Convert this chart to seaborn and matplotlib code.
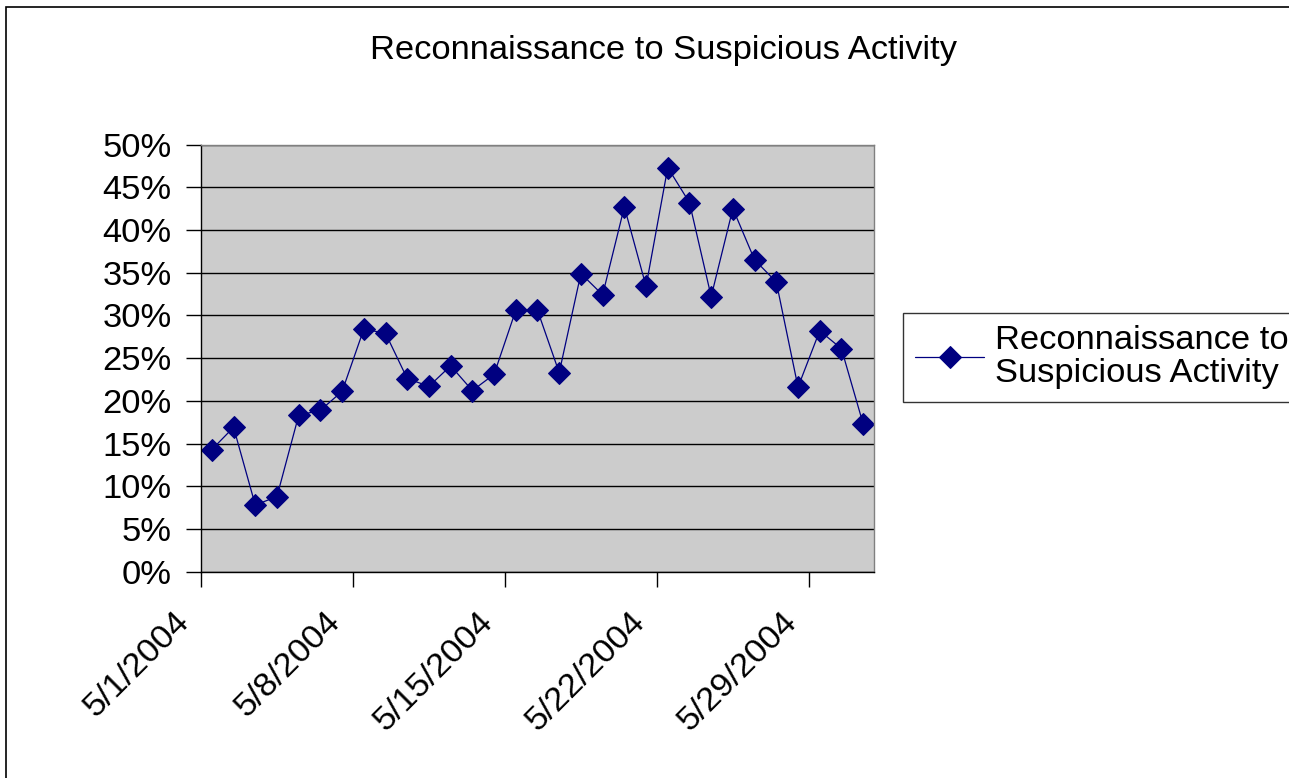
import pandas as pd
import seaborn as sns

import matplotlib
matplotlib.use("Agg")  # headless mode (no GUI)

import matplotlib.pyplot as plt
from matplotlib.patches import Rectangle
from matplotlib.transforms import ScaledTranslation

# data (share of reconnaissance events, in %)
dates = pd.date_range("2004-05-01", "2004-05-31", freq="D")
values = [14.3, 16.9, 7.8, 8.8, 18.3, 18.9, 21.1, 28.4, 27.9, 22.6,
          21.7, 24.1, 21.2, 23.1, 30.6, 30.6, 23.3, 34.9, 32.4, 42.7,
          33.4, 47.3, 43.2, 32.2, 42.5, 36.5, 33.9, 21.6, 28.2, 26.1,
          17.3]
series_name = "Reconnaissance to\nSuspicious Activity"
title = "Reconnaissance to Suspicious Activity"
y_ticks = [0, 5, 10, 15, 20, 25, 30, 35, 40, 45, 50]

df = pd.DataFrame({"date": dates, "pct": values})

sns.set_style("white")
plt.rcParams["font.family"] = ["Liberation Sans", "DejaVu Sans"]
plt.rcParams["text.color"] = "black"
plt.rcParams["xtick.color"] = "black"
plt.rcParams["ytick.color"] = "black"

FS = 24.8

fig = plt.figure(figsize=(12.89, 7.78), dpi=100)
ax = fig.add_axes([201 / 1289, 1 - 571.7 / 778, 673 / 1289, 427.2 / 778])

# outer chart border (right/bottom edges run off the picture)
fig.patches.append(Rectangle((6 / 1289, -0.1), 1.2, 1 - 7 / 778 + 0.1,
                             transform=fig.transFigure, fill=False,
                             edgecolor="black", linewidth=1.2))

ax.set_facecolor("#cccccc")
sns.lineplot(data=df, x="date", y="pct", ax=ax, color="#000080",
             linewidth=0.9, marker="D", markersize=11.5,
             markeredgecolor="#000080", label=series_name)

half = pd.Timedelta(hours=12)
ax.set_xlim(dates[0] - half, dates[-1] + half)
ax.set_ylim(0, 50)

ax.set_yticks(y_ticks)
ax.set_yticklabels([f"{v}%" for v in y_ticks])
tick_dates = dates[::7]
ax.set_xticks(tick_dates - half)
ax.set_xticklabels([f"{d.month}/{d.day}/{d.year}" for d in tick_dates],
                   rotation=45, ha="right", rotation_mode="anchor")

ax.tick_params(axis="y", direction="out", length=11, width=1, pad=10,
               labelsize=FS, left=True)
ax.tick_params(axis="x", direction="out", length=11, width=1, pad=14,
               labelsize=FS, bottom=True)

# nudge the slanted date labels left like the original
shift = ScaledTranslation(-20 / 72, 0, fig.dpi_scale_trans)
for lab in ax.get_xticklabels():
    lab.set_transform(lab.get_transform() + shift)

ax.grid(axis="y", color="black", linewidth=1)
ax.grid(axis="x", visible=False)
ax.set_axisbelow(True)
for side in ["top", "right"]:
    ax.spines[side].set_color("#808080")
for side in ["left", "bottom"]:
    ax.spines[side].set_color("black")
for s in ax.spines.values():
    s.set_linewidth(1)

ax.set_xlabel("")
ax.set_ylabel("")

fig.text(663 / 1289, 1 - 50 / 778, title, ha="center", va="center",
         fontsize=FS)

leg = ax.legend(loc="upper left", bbox_to_anchor=(903 / 1289, 1 - 312.5 / 778),
                bbox_transform=fig.transFigure, fontsize=FS, frameon=True,
                fancybox=False, shadow=False, handlelength=2.0,
                borderpad=0.36, borderaxespad=0, handletextpad=0.3)
for t in leg.get_texts():
    t.set_linespacing(1.1)
leg.get_frame().set_edgecolor("black")
leg.get_frame().set_linewidth(1)

plt.savefig("out.png", dpi=100)
